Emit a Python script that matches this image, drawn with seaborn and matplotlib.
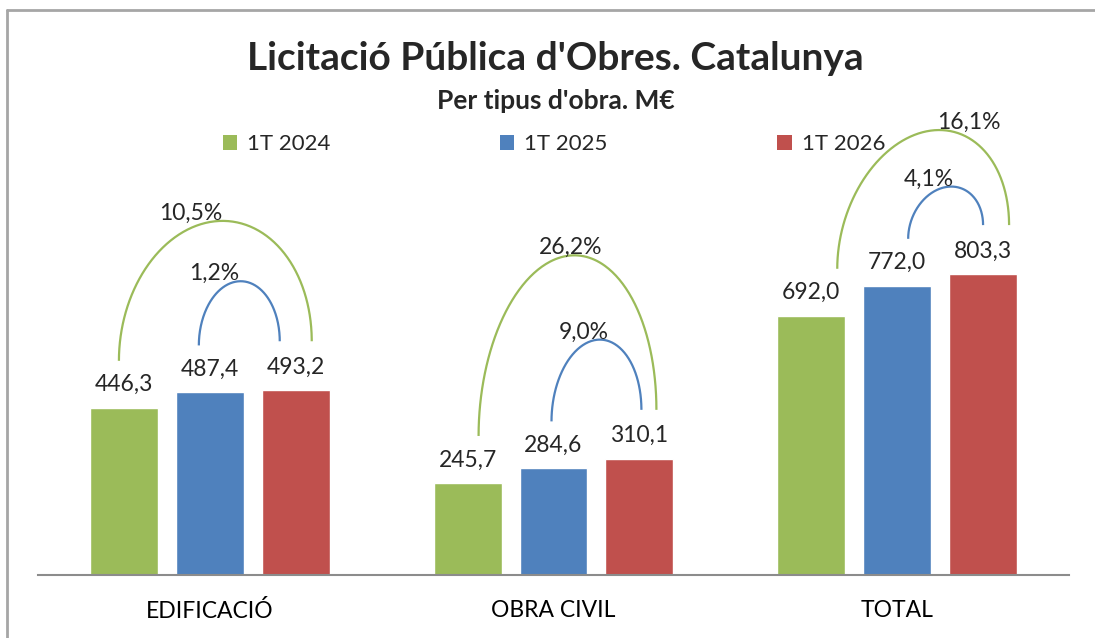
import numpy as np
import pandas as pd
import seaborn as sns
import matplotlib.pyplot as plt
from matplotlib.patches import Patch
from matplotlib.lines import Line2D

# Data
tipus = ['EDIFICACIÓ', 'OBRA CIVIL', 'TOTAL']
periodes = ['1T 2024', '1T 2025', '1T 2026']
valors_2024 = [446.3, 245.7, 692.0]
valors_2025 = [487.4, 284.6, 772.0]
valors_2026 = [493.2, 310.1, 803.3]
colors = ['#9BBB59', '#4F81BD', '#C0504D']

df = pd.DataFrame({
    'tipus': tipus * 3,
    'periode': np.repeat(periodes, 3),
    'valor': valors_2024 + valors_2025 + valors_2026,
})

# Arc layout (pixels), hand tuned per category
green_dx = [(-5, 16), (11, 17), (26, 26)]
blue_dx = [(-11, -16), (-2, 2), (11, 0)]
green_rise = [120, 154, 93]
blue_rise = [60, 70, 38]
green_label_dx = [-31, -3, 30]
blue_label_dx = [-27, -16, -22]

W, H = 1095, 638
YMAX = 1495
AX_H = 560
FS = 16.5

sns.set_theme(style='white')
plt.rcParams['font.family'] = ['Lato', 'DejaVu Sans']

fig = plt.figure(figsize=(W / 100, H / 100), dpi=100)
ax = fig.add_axes([38 / W, 63 / H, 1031 / W, AX_H / H])

sns.barplot(data=df, x='tipus', y='valor', hue='periode', palette=colors,
            saturation=1, width=0.75, gap=0.21, ax=ax, legend=False)
ax.set_ylim(0, YMAX)
ax.set_xlim(-0.5, 2.5)
ax.set_xlabel('')
ax.set_ylabel('')
ax.set_yticks([])
for s in ['top', 'right', 'left']:
    ax.spines[s].set_visible(False)
ax.spines['bottom'].set_color('#8c8c8c')
ax.spines['bottom'].set_linewidth(1.5)
ax.tick_params(axis='x', length=0, pad=18, labelsize=FS, colors='black')

# value labels
for cont in ax.containers:
    ax.bar_label(cont, labels=[f'{b.get_height():.1f}'.replace('.', ',') for b in cont],
                 padding=9, fontsize=FS)

px_x = 3 / 1031
px_y = YMAX / AX_H


def draw_arc(b0, b1, dxs, rise, label_dx, color):
    xL = b0.get_x() + b0.get_width() / 2 + dxs[0] * px_x
    xR = b1.get_x() + b1.get_width() / 2 + dxs[1] * px_x
    yL = b0.get_height() + 47 * px_y
    yR = b1.get_height() + 49 * px_y
    top = max(yL, yR) + rise * px_y
    t = np.linspace(0, np.pi, 200)
    a = (xR - xL) / 2
    xs = (xL + xR) / 2 - a * np.cos(t)
    base = yL + (yR - yL) * (xs - xL) / (xR - xL)
    b = top - (yL + yR) / 2
    ys = base + b * np.sin(t)
    ax.plot(xs, ys, color=color, lw=1.6, solid_capstyle='butt')
    i = np.argmax(ys)
    pct = (b1.get_height() / b0.get_height() - 1) * 100
    ax.text(xs[i] + label_dx * px_x, ys[i] + 1 * px_y,
            f'{pct:.1f}%'.replace('.', ','), ha='center', va='baseline', fontsize=FS)


for i in range(3):
    b24 = ax.containers[0][i]
    b25 = ax.containers[1][i]
    b26 = ax.containers[2][i]
    draw_arc(b24, b26, green_dx[i], green_rise[i], green_label_dx[i], colors[0])
    draw_arc(b25, b26, blue_dx[i], blue_rise[i], blue_label_dx[i], colors[1])

# title and subtitle
fig.text(555 / W, 1 - 58 / H, "Licitació Pública d'Obres. Catalunya",
         ha='center', va='center', fontsize=28, fontweight='bold')
fig.text(556 / W, 1 - 101 / H, "Per tipus d'obra. M€",
         ha='center', va='center', fontsize=19, fontweight='bold')

# legend
handles = [Patch(facecolor=c, edgecolor='none', label=p) for c, p in zip(colors, periodes)]
fig.legend(handles=handles, loc='center', bbox_to_anchor=(554 / W, 1 - 144 / H),
           ncol=3, frameon=False, handlelength=0.65, handleheight=0.65,
           handletextpad=0.45, columnspacing=7.62, fontsize=16)

# chart border
fig.add_artist(Line2D([7 / W, 1], [1 - 10 / H] * 2, color='#a6a6a6', lw=2))
fig.add_artist(Line2D([7 / W] * 2, [0, 1 - 10 / H], color='#a6a6a6', lw=2))

plt.savefig('out.png', dpi=100)
